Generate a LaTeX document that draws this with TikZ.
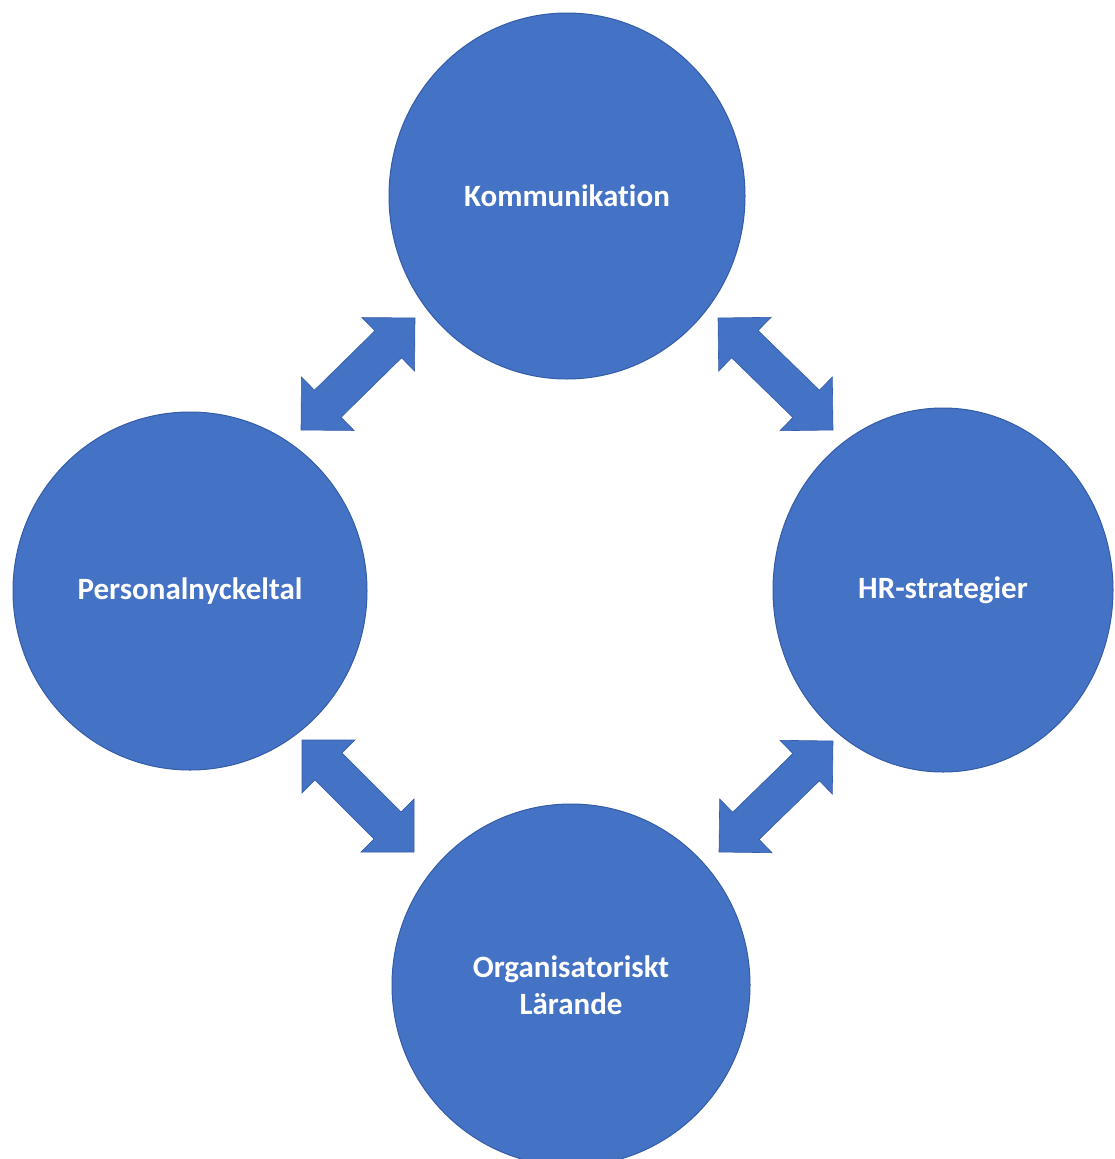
\documentclass[tikz,border=0pt]{standalone}
\usepackage{fontspec}
\setmainfont{Carlito}[Ligatures=CommonOff]
\usetikzlibrary{calc,shapes.geometric}

\definecolor{hrblue}{RGB}{68,114,196}
\definecolor{hredge}{RGB}{52,92,168}

\tikzset{
	bubble/.style={ellipse, fill=hrblue, draw=hredge, line width=1pt, inner sep=0pt,
		text=white, align=center, font=\bfseries\fontsize{31}{37}\selectfont},
	blockarrow/.style={fill=hrblue, draw=hredge, line width=0.6pt, line join=miter}
}

% double block arrow between two tips #1 and #2
\newcommand{\dblarrow}[2]{%
	\draw[blockarrow] (#1)
		-- ($(#1)!37.5pt!(#2)!37.5pt!90:(#2)$)
		-- ($(#1)!37.5pt!(#2)!19pt!90:(#2)$)
		-- ($(#2)!37.5pt!(#1)!19pt!-90:(#1)$)
		-- ($(#2)!37.5pt!(#1)!37.5pt!-90:(#1)$)
		-- (#2)
		-- ($(#2)!37.5pt!(#1)!37.5pt!90:(#1)$)
		-- ($(#2)!37.5pt!(#1)!19pt!90:(#1)$)
		-- ($(#1)!37.5pt!(#2)!19pt!-90:(#2)$)
		-- ($(#1)!37.5pt!(#2)!37.5pt!-90:(#2)$)
		-- cycle;}

\begin{document}
\begin{tikzpicture}[x=1pt,y=-1pt]
	\useasboundingbox (0,0) rectangle (1115,1159);
	\begin{scope}
		\clip (0,0) rectangle (1115,1159);

		\node[bubble, minimum width=356pt, minimum height=366pt] (komm) at (567,196) {Kommunikation};
		\node[bubble, minimum width=354pt, minimum height=358pt] (pers) at (190,591) {Personalnyckeltal};
		\node[bubble, minimum width=340pt, minimum height=364pt] (hr) at (943,590) {HR-strategier};
		\node[bubble, minimum width=358pt, minimum height=362pt] (org) at (571,985) {Organisatoriskt\\L\"arande};

		\coordinate (kp1) at (415,318);
		\coordinate (kp2) at (301,430);
		\coordinate (kh1) at (718,318);
		\coordinate (kh2) at (833,430);
		\coordinate (po1) at (302,740);
		\coordinate (po2) at (414,852);
		\coordinate (ho1) at (833,741);
		\coordinate (ho2) at (719,852);

		\dblarrow{kp1}{kp2}
		\dblarrow{kh1}{kh2}
		\dblarrow{po1}{po2}
		\dblarrow{ho1}{ho2}
	\end{scope}
\end{tikzpicture}
\end{document}
